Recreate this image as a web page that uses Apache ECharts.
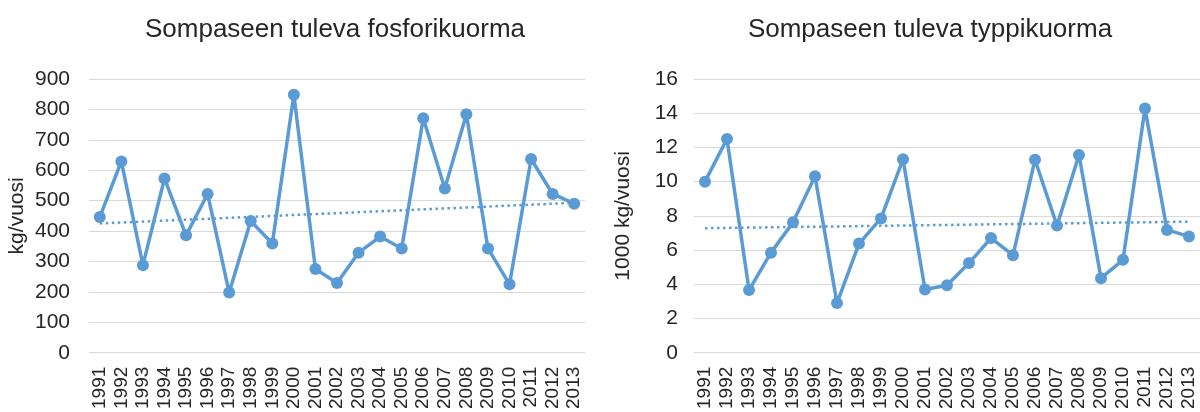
<!DOCTYPE html>
<html>
<head>
<meta charset="utf-8">
<script src="https://cdn.jsdelivr.net/npm/echarts@6/dist/echarts.min.js"></script>
<style>
html,body{margin:0;padding:0;background:#fff;}
#c{width:1200px;height:412px;}
</style>
</head>
<body>
<div id="c"></div>
<script>
const years = ['1991','1992','1993','1994','1995','1996','1997','1998','1999','2000','2001','2002','2003','2004','2005','2006','2007','2008','2009','2010','2011','2012','2013'];
const phosphorus = [446,629,288,573,386,522,198,433,359,848,275,229,329,382,343,771,540,784,343,225,637,522,490];
const nitrogen = [10.0,12.5,3.66,5.85,7.62,10.32,2.9,6.38,7.85,11.31,3.7,3.94,5.24,6.7,5.7,11.28,7.43,11.56,4.36,5.43,14.27,7.18,6.8];
// trend line end values (first and last year)
const phosphorusTrend = [425, 493];
const nitrogenTrend = [7.28, 7.66];
const leftTicks = {min:0, max:900, interval:100};
const rightTicks = {min:0, max:16, interval:2};
const titles = ['Sompaseen tuleva fosforikuorma', 'Sompaseen tuleva typpikuorma'];
const yNames = ['kg/vuosi', '1000 kg/vuosi'];

const FONT = 'Liberation Sans, Arial, sans-serif';
const BLUE = '#5b9bd5';
const TXT = '#262626';

function trendSeries(ends){
  const arr = years.map(()=>null);
  arr[0] = ends[0];
  arr[arr.length-1] = ends[1];
  return arr;
}

const chart = echarts.init(document.getElementById('c'), null, {renderer:'canvas'});

function xAxis(gi){
  return {
    type:'category', gridIndex:gi, data:years, boundaryGap:true,
    axisLine:{show:false}, axisTick:{show:false},
    axisLabel:{rotate:90, color:TXT, fontSize:19, fontFamily:FONT, margin:14, interval:0}
  };
}
function yAxis(gi, t, name){
  return {
    type:'value', gridIndex:gi, min:t.min, max:t.max, interval:t.interval,
    name:name, nameLocation:'middle', nameGap: gi===0?61:60, nameRotate:90,
    nameTextStyle:{color:TXT, fontSize:21, fontFamily:FONT},
    axisLine:{show:false}, axisTick:{show:false},
    axisLabel:{color:TXT, fontSize:21, fontFamily:FONT, margin: gi===0?19:16},
    splitLine:{lineStyle:{color:'#d9d9d9', width:1}}
  };
}
function dataSeries(gi, vals){
  return {
    type:'line', xAxisIndex:gi, yAxisIndex:gi, data:vals,
    symbol:'circle', symbolSize:12,
    lineStyle:{color:BLUE, width:3.5},
    itemStyle:{color:BLUE},
    animation:false, z:3
  };
}
function trend(gi, ends){
  return {
    type:'line', xAxisIndex:gi, yAxisIndex:gi, data:trendSeries(ends),
    connectNulls:true, symbol:'none',
    lineStyle:{color:BLUE, width:2.5, type:[2.5,3.5]},
    animation:false, z:2
  };
}

chart.setOption({
  backgroundColor:'#fff',
  animation:false,
  title:[
    {text:titles[0], left:330, top:12, textAlign:'center',
     textStyle:{fontSize:26, fontWeight:'normal', color:TXT, fontFamily:FONT}},
    {text:titles[1], left:925, top:12, textAlign:'center',
     textStyle:{fontSize:26, fontWeight:'normal', color:TXT, fontFamily:FONT}}
  ],
  grid:[
    {left:89, top:79, width:496, height:280},
    {left:694, top:79, width:507, height:280}
  ],
  xAxis:[xAxis(0), xAxis(1)],
  yAxis:[yAxis(0, leftTicks, yNames[0]), yAxis(1, rightTicks, yNames[1])],
  series:[
    trend(0, phosphorusTrend), dataSeries(0, phosphorus),
    trend(1, nitrogenTrend), dataSeries(1, nitrogen)
  ]
});
</script>
</body>
</html>
